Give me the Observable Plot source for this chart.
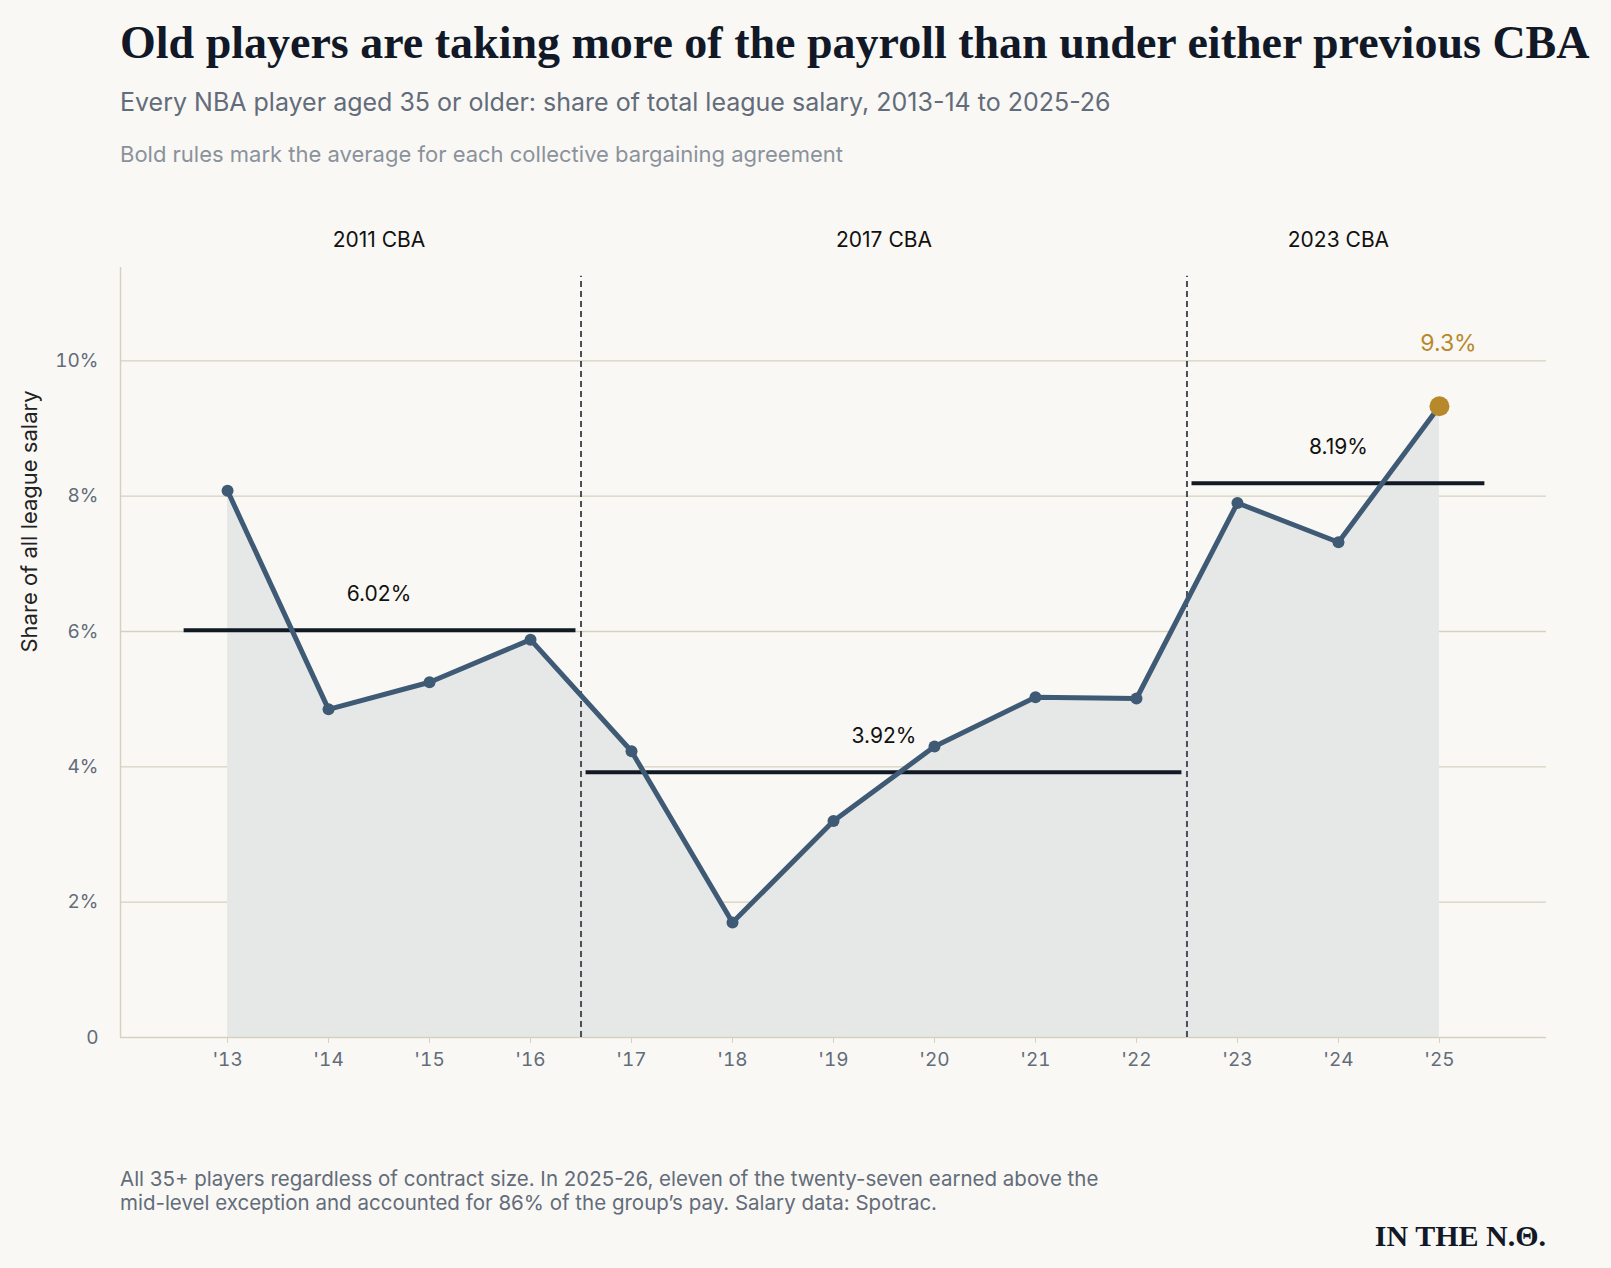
<!DOCTYPE html>
<html><head><meta charset="utf-8">
<script src="https://cdn.jsdelivr.net/npm/d3@7"></script>
<script src="https://cdn.jsdelivr.net/npm/@observablehq/plot@0.6"></script>
<style>
body{margin:0;background:#faf8f4;font-family:Inter,sans-serif;}
#wrap{position:relative;width:1611px;height:1268px;}
.t{position:absolute;left:120px;white-space:nowrap;}
</style></head><body>
<div id="wrap">
<div class="t" style="top:16px;font:bold 46px 'Liberation Serif',serif;color:#111827;">Old players are taking more of the payroll than under either previous CBA</div>
<div class="t" style="top:87px;font-size:25px;color:#626c7a;">Every NBA player aged 35 or older: share of total league salary, 2013-14 to 2025-26</div>
<div class="t" style="top:141px;font-size:22px;color:#8a929c;">Bold rules mark the average for each collective bargaining agreement</div>
<div id="chart" style="position:absolute;left:0;top:190px;"></div>
<div class="t" style="top:1167px;font-size:20.5px;line-height:24px;color:#626c7a;">All 35+ players regardless of contract size. In 2025-26, eleven of the twenty-seven earned above the<br>mid-level exception and accounted for 86% of the group’s pay. Salary data: Spotrac.</div>
<div style="position:absolute;right:65px;top:1219px;font:bold 30px 'Liberation Serif',serif;color:#111827;">IN THE N.Θ.</div>
</div>
<script>
const seasons=[2013,2014,2015,2016,2017,2018,2019,2020,2021,2022,2023,2024,2025];
const shares=[8.08,4.85,5.25,5.88,4.23,1.70,3.20,4.30,5.03,5.01,7.90,7.32,9.33];
const cbaNames=["2011 CBA","2017 CBA","2023 CBA"];
const cbaStart=[2012.57,2016.55,2022.55];
const cbaEnd=[2016.45,2022.45,2025.45];
const cbaLabelX=[2014.5,2019.5,2024.0];
const cbaAvg=[6.02,3.92,8.19];
const cbaHeaderX=[2014.5,2019.5,2024.0];
const dividers=[2016.5,2022.5];
const yTicks=[0,2,4,6,8,10];

const data=seasons.map((s,i)=>({s,v:shares[i]}));
const cbas=cbaNames.map((n,i)=>({n,x1:cbaStart[i],x2:cbaEnd[i],lx:cbaLabelX[i],avg:cbaAvg[i],hx:cbaHeaderX[i]}));
const last=data[data.length-1];
const grid="#d5d1bf";
const plot=Plot.plot({
  width:1611,height:908,marginTop:77,marginBottom:61,marginLeft:120,marginRight:65,
  style:{background:"transparent",fontFamily:"Inter,sans-serif",fontSize:"20px",color:"#626c7a"},
  x:{domain:[2011.94,2026.06],label:null},
  y:{domain:[0,11.38],label:null},
  marks:[
    Plot.gridY(yTicks.filter(d=>d>0),{stroke:grid,strokeOpacity:1,strokeWidth:1.3}),
    Plot.areaY(data,{x:"s",y:"v",fill:"#e6e8e7"}),
    Plot.ruleX([2011.94],{stroke:grid,strokeWidth:1.5}),
    Plot.ruleY([0],{stroke:grid,strokeWidth:1.5}),
    Plot.ruleX(dividers,{y1:0,y2:11.25,stroke:"#4b4f57",strokeWidth:2,strokeDasharray:"6,4"}),
    Plot.ruleY(cbas,{y:"avg",x1:"x1",x2:"x2",stroke:"#111a24",strokeWidth:4}),
    Plot.text(cbas,{x:"lx",y:"avg",text:d=>d.avg.toFixed(2)+"%",dy:-36,fill:"#111",fontSize:21}),
    Plot.lineY(data,{x:"s",y:"v",stroke:"#3f5a75",strokeWidth:5}),
    Plot.dot(data.slice(0,-1),{x:"s",y:"v",r:6,fill:"#3f5a75"}),
    Plot.dot([last],{x:"s",y:"v",r:10,fill:"#b8892a"}),
    Plot.text([last],{x:"s",y:"v",text:d=>d.v.toFixed(1)+"%",dy:-63,dx:9,fill:"#b8892a",fontSize:23}),
    Plot.text(cbas,{x:"hx",y:11.38,text:"n",dy:-27,fill:"#111",fontSize:21}),
    Plot.axisX({ticks:seasons,tickFormat:d=>"'"+String(d).slice(2),tickSize:6,stroke:grid,fontSize:19,fill:"#626c7a",tickPadding:9,label:null}),
    Plot.axisY({ticks:yTicks,tickFormat:d=>d===0?"0":d+"%",tickSize:0,tickPadding:22,fontSize:19,fill:"#626c7a",label:null}),
    Plot.text(["Share of all league salary"],{frameAnchor:"left",dx:-91,dy:0,rotate:-90,fill:"#222",fontSize:22})
  ]
});
document.getElementById("chart").appendChild(plot);
</script>
</body></html>
